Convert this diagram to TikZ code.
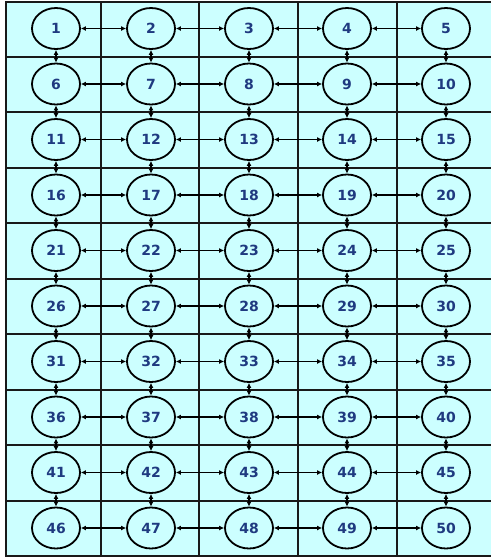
\documentclass[tikz,border=0pt]{standalone}
\usepackage{fontspec}
\setmainfont{DejaVu Sans}
\usetikzlibrary{shapes.geometric,arrows.meta}
\definecolor{cellfill}{HTML}{CCFFFF}
\definecolor{numblue}{HTML}{1F3A80}
\tikzset{
  cellnode/.style={ellipse,draw=black,line width=1.8pt,fill=cellfill,minimum width=48pt,minimum height=41pt,inner sep=0pt,
    font=\fontsize{14}{16}\selectfont\bfseries,text=numblue},
  link/.style={line width=1.4pt,{Latex[length=5pt,width=5pt]}-{Latex[length=5pt,width=5pt]}},
  gridline/.style={line width=2pt,draw=black!90}
}
\begin{document}
\begin{tikzpicture}[x=1pt,y=-1pt]
\useasboundingbox (0,0) rectangle (491,558);
\fill[cellfill] (5,1) rectangle (491,556);
% grid
\foreach \yy in {1.5,56.5,112,167.5,223,278.5,334,389.5,445,500.5,556}
  \draw[gridline] (5,\yy) -- (491,\yy);
\foreach \xx in {5.5,101,199,298,397}
  \draw[gridline] (\xx,1) -- (\xx,556);
% nodes
\foreach \r in {0,...,9}{
  \foreach \c/\xx in {1/56,2/151,3/249,4/347,5/446}{
    \pgfmathtruncatemacro{\k}{\r*5+\c}
    \node[cellnode] (n\k) at (\xx,{28.5+55.5*\r}) {\k};
  }
}
% horizontal links
\foreach \r in {0,...,9}{
  \foreach \c in {1,...,4}{
    \pgfmathtruncatemacro{\a}{\r*5+\c}
    \pgfmathtruncatemacro{\b}{\r*5+\c+1}
    \draw[link] (n\a) -- (n\b);
  }
}
% vertical links
\foreach \r in {0,...,8}{
  \foreach \c in {1,...,5}{
    \pgfmathtruncatemacro{\a}{\r*5+\c}
    \pgfmathtruncatemacro{\b}{\r*5+\c+5}
    \draw[link] (n\a) -- (n\b);
  }
}
\end{tikzpicture}
\end{document}
